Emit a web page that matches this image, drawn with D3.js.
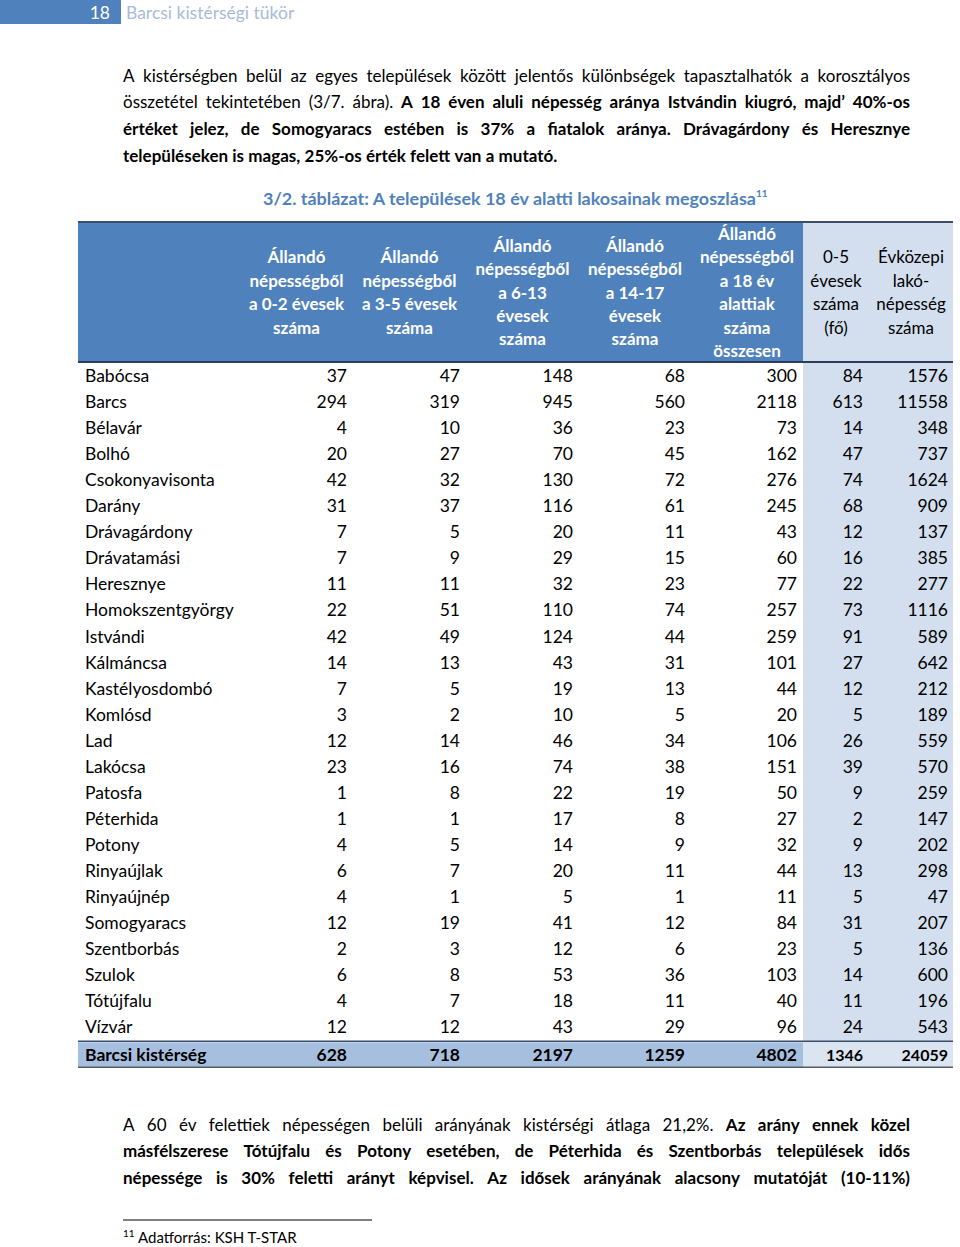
<!DOCTYPE html>
<html><head><meta charset="utf-8">
<script src="https://cdn.jsdelivr.net/npm/d3@7"></script>
<style>
html,body{margin:0;padding:0;background:#fff;}
svg{display:block;}
</style></head>
<body>
<script>
// ---------- DATA ----------
const settlements = ["Babócsa","Barcs","Bélavár","Bolhó","Csokonyavisonta","Darány","Drávagárdony","Drávatamási","Heresznye","Homokszentgyörgy","Istvándi","Kálmáncsa","Kastélyosdombó","Komlósd","Lad","Lakócsa","Patosfa","Péterhida","Potony","Rinyaújlak","Rinyaújnép","Somogyaracs","Szentborbás","Szulok","Tótújfalu","Vízvár"];
const age0_2   = [37,294,4,20,42,31,7,7,11,22,42,14,7,3,12,23,1,1,4,6,4,12,2,6,4,12];
const age3_5   = [47,319,10,27,32,37,5,9,11,51,49,13,5,2,14,16,8,1,5,7,1,19,3,8,7,12];
const age6_13  = [148,945,36,70,130,116,20,29,32,110,124,43,19,10,46,74,22,17,14,20,5,41,12,53,18,43];
const age14_17 = [68,560,23,45,72,61,11,15,23,74,44,31,13,5,34,38,19,8,9,11,1,12,6,36,11,29];
const under18  = [300,2118,73,162,276,245,43,60,77,257,259,101,44,20,106,151,50,27,32,44,11,84,23,103,40,96];
const age0_5   = [84,613,14,47,74,68,12,16,22,73,91,27,12,5,26,39,9,2,9,13,5,31,5,14,11,24];
const population = [1576,11558,348,737,1624,909,137,385,277,1116,589,642,212,189,559,570,259,147,202,298,47,207,136,600,196,543];
const totalLabel = "Barcsi kistérség";
const totals = [628,718,2197,1259,4802,1346,24059];

const columnHeaders = [
  ["Állandó","népességből","a 0-2 évesek","száma"],
  ["Állandó","népességből","a 3-5 évesek","száma"],
  ["Állandó","népességből","a 6-13","évesek","száma"],
  ["Állandó","népességből","a 14-17","évesek","száma"],
  ["Állandó","népességből","a 18 év","alattiak","száma","összesen"],
  ["0-5","évesek","száma","(fő)"],
  ["Évközepi","lakó-","népesség","száma"]
];
const pageNumber = "18";
const runningTitle = "Barcsi kistérségi tükör";
const caption = "3/2. táblázat: A települések 18 év alatti lakosainak megoszlása";
const footnoteMark = "11";
const footnoteText = "Adatforrás: KSH T-STAR";
const para1 = [
  {j:true, segs:[[0,"A kistérségben belül az egyes települések között jelentős különbségek tapasztalhatók a korosztályos"]]},
  {j:true, segs:[[0,"összetétel tekintetében (3/7. ábra)."],[1,"A 18 éven aluli népesség aránya Istvándin kiugró, majd’ 40%-os"]]},
  {j:true, segs:[[1,"értéket jelez, de Somogyaracs estében is 37% a fiatalok aránya. Drávagárdony és Heresznye"]]},
  {j:false, segs:[[1,"településeken is magas, 25%-os érték felett van a mutató."]]}
];
const para2 = [
  {j:true, segs:[[0,"A 60 év felettiek népességen belüli arányának kistérségi átlaga 21,2%."],[1,"Az arány ennek közel"]]},
  {j:true, segs:[[1,"másfélszerese Tótújfalu és Potony esetében, de Péterhida és Szentborbás települések idős"]]},
  {j:true, segs:[[1,"népessége is 30% feletti arányt képvisel. Az idősek arányának alacsony mutatóját (10-11%)"]]}
];

// ---------- LAYOUT ----------
const W = 960, H = 1247;
const FONT = "Lato, 'Open Sans', sans-serif";
const BLUE = "#4f81bd", LIGHT = "#d3dfee", MID = "#a7bfde";
const colEdges = [78,240,353,466,579,691,803,869,953];
const headerTop = 222, headerBottom = 362, rowH = 26.05;

const svg = d3.select("body").append("svg").attr("width",W).attr("height",H)
  .style("font-family",FONT);
svg.append("rect").attr("width",W).attr("height",H).attr("fill","#fff");

// running header
svg.append("rect").attr("x",0).attr("y",0).attr("width",121).attr("height",24).attr("fill",BLUE);
svg.append("text").attr("x",110).attr("y",19).attr("text-anchor","end").attr("fill","#fff")
  .attr("font-size",17.5).text(pageNumber);
svg.append("text").attr("x",126).attr("y",19).attr("fill","#a9bbd8").attr("font-size",17.5).text(runningTitle);

// justified paragraphs
const textW = 787, textX = 123;
function drawPara(lines, baseY, lh, fs0){
  const g = svg.append("g");
  lines.forEach((ln,i)=>{
    const words=[];
    ln.segs.forEach(([b,t])=>t.split(" ").forEach(w=>words.push({b,w})));
    const y = baseY + i*lh;
    let fs = fs0;
    const ts = g.selectAll(null).data(words).enter().append("text")
      .attr("y",y).attr("font-size",fs).attr("fill","#000")
      .attr("font-weight",d=>d.b?"bold":"normal").text(d=>d.w);
    let widths = ts.nodes().map(n=>n.getComputedTextLength());
    let sum = d3.sum(widths);
    const minGap = 3.5;
    if (sum + minGap*(words.length-1) > textW){
      fs = fs0 * (textW - minGap*(words.length-1)) / sum;
      ts.attr("font-size",fs);
      widths = ts.nodes().map(n=>n.getComputedTextLength());
      sum = d3.sum(widths);
    }
    const gap = ln.j ? (textW-sum)/(words.length-1) : fs*0.25;
    let x = textX;
    ts.each(function(d,k){ d3.select(this).attr("x",x); x += widths[k]+gap; });
  });
  return g;
}
drawPara(para1, 81.5, 26.7, 17);
drawPara(para2, 1130.5, 26.5, 17);

// caption
const cap = svg.append("text").attr("x",263).attr("y",205).attr("fill",BLUE)
  .attr("font-weight","bold").attr("font-size",16.5);
const capMain = cap.append("tspan").text(caption);
const capSup = cap.append("tspan").attr("dy",-8).attr("font-size",10).text(footnoteMark);
{
  const w0 = cap.node().getComputedTextLength();
  const fs = 16.5*(769-263)/w0;
  capMain.attr("font-size",fs);
}

// ---------- TABLE ----------
const y = d3.scaleBand().domain(settlements).range([headerBottom+1, headerBottom+1+rowH*settlements.length]);
const totalTop = y.range()[1]+2, totalBottom = totalTop+25;

// backgrounds
svg.append("rect").attr("x",colEdges[0]).attr("y",headerTop).attr("width",colEdges[6]-colEdges[0])
  .attr("height",headerBottom-headerTop).attr("fill",BLUE);
svg.append("rect").attr("x",colEdges[6]).attr("y",headerTop).attr("width",colEdges[8]-colEdges[6])
  .attr("height",totalBottom-headerTop).attr("fill",LIGHT);
svg.append("rect").attr("x",colEdges[0]).attr("y",totalTop).attr("width",colEdges[6]-colEdges[0])
  .attr("height",totalBottom-totalTop).attr("fill",MID);
svg.append("rect").attr("x",colEdges[6]).attr("y",totalTop).attr("width",colEdges[8]-colEdges[6])
  .attr("height",totalBottom-totalTop).attr("fill","#dbe5f1");

// header texts
const headG = svg.append("g");
columnHeaders.forEach((lines,c)=>{
  const cx = (colEdges[c+1]+colEdges[c+2])/2;
  const lh = 23.4, mid = 292.5;
  const y0 = mid - (lines.length-1)*lh/2;
  const light = c>=5;
  headG.selectAll(null).data(lines).enter().append("text")
    .attr("x",cx).attr("y",(d,i)=>y0+i*lh+6).attr("text-anchor","middle")
    .attr("font-size",17).attr("font-weight",light?"normal":"bold")
    .attr("fill",light?"#000":"#fff").text(d=>d);
});

// rules
const rule = (yy,col,w)=>svg.append("line").attr("x1",colEdges[0]).attr("x2",colEdges[8])
  .attr("y1",yy).attr("y2",yy).attr("stroke",col).attr("stroke-width",w);
rule(headerTop,"#3b4f6b",2);
rule(headerBottom,"#2c3e5a",2);
rule(totalTop-1,"#3b4f6b",1.5);
rule(totalBottom,"#555c66",1.5);

// body
const cols = [age0_2,age3_5,age6_13,age14_17,under18,age0_5,population];
const body = svg.append("g").attr("font-size",17.5).attr("fill","#000");
const rows = body.selectAll("g.row").data(settlements).enter().append("g")
  .attr("transform",d=>`translate(0,${y(d)+y.bandwidth()/2+6})`);
rows.append("text").attr("x",85).text(d=>d);
cols.forEach((arr,c)=>{
  const rx = colEdges[c+2] - (c===6?5:6);
  rows.append("text").attr("x",rx).attr("text-anchor","end").text((d,i)=>arr[i]);
});
// totals
const tg = body.append("g").attr("transform",`translate(0,${(totalTop+totalBottom)/2+6})`)
  .attr("font-weight","bold");
tg.append("text").attr("x",85).text(totalLabel);
tg.selectAll(null).data(totals).enter().append("text")
  .attr("x",(d,c)=>colEdges[c+2]-(c===6?5:6)).attr("text-anchor","end")
  .attr("font-size",(d,c)=>c>=5?16:17.5).text(d=>d);

// footnote
svg.append("line").attr("x1",123).attr("x2",372).attr("y1",1220).attr("y2",1220)
  .attr("stroke","#000").attr("stroke-width",1);
svg.append("text").attr("x",123).attr("y",1237).attr("font-size",10).attr("fill","#000").text(footnoteMark);
svg.append("text").attr("x",138).attr("y",1243).attr("font-size",15).attr("fill","#000").text(footnoteText);
</script>
</body></html>
